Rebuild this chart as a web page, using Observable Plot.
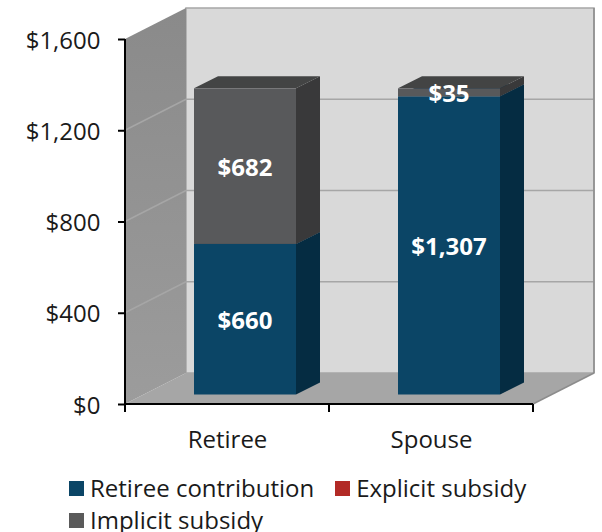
<!DOCTYPE html>
<html>
<head>
<meta charset="utf-8">
<script src="https://cdn.jsdelivr.net/npm/d3@7"></script>
<script src="https://cdn.jsdelivr.net/npm/@observablehq/plot@0.6"></script>
<style>
  html, body { margin: 0; padding: 0; background: #fff; }
  body { width: 602px; font-family: "Open Sans", sans-serif; color: #1a1a1a; }
  svg { display: block; }
  .legend { display: flex; flex-wrap: wrap; row-gap: 8px; width: 500px; padding: 0 0 0 69px; margin-top: 6px; font-size: 24px; line-height: 24px; }
  .legend .item { display: flex; align-items: center; margin-right: 21px; white-space: nowrap; }
  .legend .sw { width: 15px; height: 15px; margin-right: 6px; flex: none; }
</style>
</head>
<body>
<div id="chart"></div>
<div class="legend" id="legend"></div>
<script>
const plans = ["Retiree", "Spouse"];
const seriesNames = ["Retiree contribution", "Explicit subsidy", "Implicit subsidy"];
const retireeValues = [660, 0, 682];
const spouseValues = [1307, 0, 35];
const yTicks = [0, 400, 800, 1200, 1600];
const frontColors = ["#0b4566", "#b22a26", "#58595b"];
const sideColors = ["#052c42", "#7a1c1a", "#39393a"];
const topColors = ["#052c42", "#7a1c1a", "#434444"];
const legendColors = ["#0b4566", "#b22a26", "#5a5a5a"];

const rows = [];
plans.forEach((plan, p) => {
  const vals = p === 0 ? retireeValues : spouseValues;
  seriesNames.forEach((series, s) => rows.push({plan, series, value: vals[s]}));
});

// perspective of the fake 3-D box, in pixels
const wallDx = 61, wallDy = -31;       // depth of the whole box
const barDx = 18, barDy = -9.5;        // where the front of a bar sits in the box
const barDepthX = 24, barDepthY = -12; // depth of a bar
const inset = 51;

const money = d => "$" + d3.format(",")(d);

function poly(g, pts, fill, stroke, sw) {
  g.append("polygon")
    .attr("points", pts.map(p => p.join(",")).join(" "))
    .attr("fill", fill)
    .attr("stroke", stroke || "none")
    .attr("stroke-width", sw || 0);
}

function box(index, {x, y}) {
  const g = d3.create("svg:g");
  const l = x(plans[0]), r = x(plans[1]) + x.bandwidth();
  const b = y(0), t = y(1600);
  const grad = g.append("defs").append("linearGradient")
    .attr("id", "wall").attr("x1", 0).attr("x2", 0).attr("y1", 0).attr("y2", 1);
  grad.append("stop").attr("offset", 0).attr("stop-color", "#8a8a8a");
  grad.append("stop").attr("offset", 1).attr("stop-color", "#9c9c9c");
  poly(g, [[l + wallDx, t + wallDy], [r + wallDx, t + wallDy], [r + wallDx, b + wallDy], [l + wallDx, b + wallDy]], "#d9d9d9", "#a6a6a6", 1.5);
  poly(g, [[l, b], [l + wallDx, b + wallDy], [r + wallDx, b + wallDy], [r, b]], "#a6a6a6");
  poly(g, [[l, t], [l + wallDx, t + wallDy], [l + wallDx, b + wallDy], [l, b]], "url(#wall)");
  for (const v of yTicks.slice(1, -1)) {
    g.append("line").attr("x1", l).attr("y1", y(v)).attr("x2", l + wallDx).attr("y2", y(v) + wallDy)
      .attr("stroke", "#a6a6a6").attr("stroke-width", 1.5);
    g.append("line").attr("x1", l + wallDx).attr("y1", y(v) + wallDy).attr("x2", r + wallDx).attr("y2", y(v) + wallDy)
      .attr("stroke", "#a6a6a6").attr("stroke-width", 1.5);
  }
  g.append("line").attr("x1", r).attr("y1", b).attr("x2", r + wallDx).attr("y2", b + wallDy)
    .attr("stroke", "#8c8c8c").attr("stroke-width", 1.5);
  g.append("line").attr("x1", r + wallDx).attr("y1", t + wallDy).attr("x2", r + wallDx).attr("y2", b + wallDy)
    .attr("stroke", "#8c8c8c").attr("stroke-width", 1.5);
  return g.node();
}

function xAxisLine(index, {x, y}) {
  const g = d3.create("svg:g").attr("stroke", "#000").attr("stroke-width", 2);
  const l = x(plans[0]), w = x.bandwidth(), b = y(0);
  g.append("line").attr("x1", l).attr("x2", l + 2 * w).attr("y1", b).attr("y2", b);
  g.append("line").attr("x1", l).attr("x2", l).attr("y1", y(1600)).attr("y2", b);
  [0, 1, 2].forEach(k => g.append("line").attr("x1", l + k * w).attr("x2", l + k * w).attr("y1", b).attr("y2", b + 8));
  return g.node();
}

function barDepth(index, scales, values) {
  const g = d3.create("svg:g");
  const w = scales.x.bandwidth() - 2 * inset;
  for (const i of index) {
    const s = seriesNames.indexOf(rows[i].series);
    if (!rows[i].value) continue;
    const x0 = values.x[i] + inset + barDx + w;
    const lo = Math.max(values.y1[i], values.y2[i]) + barDy;
    const hi = Math.min(values.y1[i], values.y2[i]) + barDy;
    poly(g, [[x0, lo], [x0 + barDepthX, lo + barDepthY], [x0 + barDepthX, hi + barDepthY], [x0, hi]], sideColors[s]);
    poly(g, [[x0 - w, hi], [x0 - w + barDepthX, hi + barDepthY], [x0 + barDepthX, hi + barDepthY], [x0, hi]], topColors[s]);
  }
  return g.node();
}

const chart = Plot.plot({
  width: 602,
  height: 470,
  marginLeft: 125,
  marginRight: 69,
  marginTop: 39,
  marginBottom: 66,
  style: {fontFamily: "'Open Sans', sans-serif", background: "transparent", overflow: "visible"},
  x: {domain: plans, padding: 0, label: null},
  y: {domain: [0, 1600], label: null},
  color: {domain: seriesNames, range: frontColors},
  marks: [
    box,
    Plot.barY(rows, {x: "plan", y: "value", z: "series", order: seriesNames, render: barDepth}),
    Plot.barY(rows.filter(d => d.value), {x: "plan", y: "value", fill: "series", order: seriesNames, insetLeft: inset, insetRight: inset, dx: barDx, dy: barDy}),
    xAxisLine,
    Plot.axisY({ticks: yTicks, tickFormat: null, text: null, tickSize: 7, stroke: "#000", strokeWidth: 2, label: null}),
    Plot.axisY({ticks: yTicks, tickFormat: money, tickSize: 0, tickPadding: 25, dy: 1.5, fontSize: 24, fill: "#1a1a1a", label: null}),
    Plot.axisX({tickSize: 0, tickPadding: 26, fontSize: 24, fill: "#1a1a1a", label: null}),
    Plot.text(rows.filter(d => d.value), Plot.stackY({x: "plan", y: "value", z: "series", order: seriesNames, text: d => money(d.value), fill: "#fff", fontSize: 24, fontWeight: 700, dx: barDx - 0.5, dy: barDy + 1.5}))
  ]
});
document.getElementById("chart").append(chart);

const legend = d3.select("#legend");
seriesNames.forEach((name, i) => {
  const item = legend.append("div").attr("class", "item");
  item.append("span").attr("class", "sw").style("background", legendColors[i]);
  item.append("span").text(name);
});
</script>
</body>
</html>
